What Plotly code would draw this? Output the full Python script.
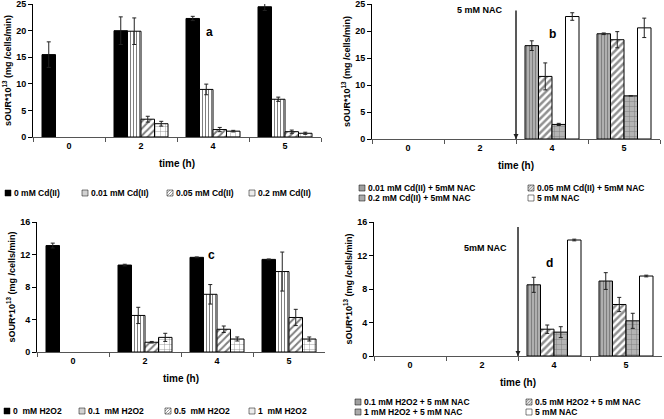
import plotly.graph_objects as go

FONT = "Liberation Sans, Arial, sans-serif"

# ---------------- data ----------------
times_a = ["0", "2", "4", "5"]
times_b = ["0", "2", "4", "5"]
times_c = ["0", "2", "4", "5"]
times_d = ["0", "2", "4", "5"]

names_a = ["0 mM Cd(II)", "0.01 mM Cd(II)", "0.05 mM Cd(II)", "0.2 mM Cd(II)"]
a_cd0 = [15.5, 20.0, 22.3, 24.5]
a_cd0_err = [2.4, 2.6, 0.4, 0.7]
a_cd001 = [None, 19.9, 8.95, 7.1]
a_cd001_err = [0, 2.5, 1.0, 0.4]
a_cd005 = [None, 3.35, 1.4, 1.0]
a_cd005_err = [0, 0.55, 0.4, 0.3]
a_cd02 = [None, 2.5, 1.1, 0.7]
a_cd02_err = [0, 0.45, 0.15, 0.2]

names_b = ["0.01 mM Cd(II) + 5mM NAC", "0.05 mM Cd(II) + 5mM NAC",
           "0.2 mM Cd(II) + 5mM NAC", "5 mM NAC"]
b_cd001 = [None, None, 17.3, 19.5]
b_cd001_err = [0, 0, 0.9, 0.15]
b_cd005 = [None, None, 11.6, 18.4]
b_cd005_err = [0, 0, 2.5, 1.5]
b_cd02 = [None, None, 2.7, 8.0]
b_cd02_err = [0, 0, 0.2, 0]
b_nac = [None, None, 22.7, 20.6]
b_nac_err = [0, 0, 0.7, 1.8]

names_c = ["0  mM H2O2", "0.1  mM H2O2", "0.5  mM H2O2", "1  mM H2O2"]
c_h0 = [13.1, 10.7, 11.65, 11.4]
c_h0_err = [0.3, 0.1, 0.05, 0.05]
c_h01 = [None, 4.5, 7.1, 9.9]
c_h01_err = [0, 1.0, 1.2, 2.4]
c_h05 = [None, 1.2, 2.8, 4.25]
c_h05_err = [0, 0.1, 0.4, 1.0]
c_h1 = [None, 1.8, 1.6, 1.6]
c_h1_err = [0, 0.5, 0.25, 0.25]

names_d = ["0.1 mM H2O2 + 5 mM NAC", "0.5 mM H2O2 + 5 mM NAC",
           "1 mM H2O2 + 5 mM NAC", "5 mM NAC"]
d_h01 = [None, None, 8.5, 8.95]
d_h01_err = [0, 0, 0.9, 1.0]
d_h05 = [None, None, 3.2, 6.15]
d_h05_err = [0, 0, 0.5, 0.85]
d_h1 = [None, None, 2.85, 4.2]
d_h1_err = [0, 0, 0.65, 0.9]
d_nac = [None, None, 13.85, 9.55]
d_nac_err = [0, 0, 0.1, 0.1]

# ---------------- styles ----------------
BLACK = dict(color="black")
VLINES = dict(color="white", pattern=dict(shape="|", fgcolor="black", bgcolor="white", size=3, solidity=0.35))
DIAG = dict(color="white", pattern=dict(shape="/", fgcolor="black", bgcolor="white", size=5, solidity=0.4))
GRID = dict(color="white", pattern=dict(shape="+", fgcolor="black", bgcolor="white", size=5, solidity=0.15))
G_VLINES = dict(color="#9a9a9a", pattern=dict(shape="|", fgcolor="#4a4a4a", bgcolor="#b4b4b4", size=3, solidity=0.4))
G_DIAG = dict(color="white", pattern=dict(shape="/", fgcolor="#222222", bgcolor="white", size=5, solidity=0.5))
G_GRID = dict(color="#b4b4b4", pattern=dict(shape="+", fgcolor="#333333", bgcolor="#b4b4b4", size=5, solidity=0.15))
WHITE = dict(color="white")

W, H = 664, 419


def px_x(p):
    return p / W


def px_y(p):
    return 1 - p / H


legf = dict(family=FONT, size=8.5, color="black", weight="bold")
TEXT_OFF = 40  # legend x -> legend text start (px)

# target text-start positions (px) of each legend entry
leg_pos = [
    (14, 193), (91, 193), (176, 193), (258, 193),
    (368, 188), (537, 188), (368, 198), (537, 198),
    (13, 411), (88, 411), (174, 411), (258, 411),
    (364, 402), (535, 402), (364, 412), (535, 412),
]

legend_layout = {}
legend_ids = []
for i, (lx, ly) in enumerate(leg_pos):
    key = "legend" if i == 0 else f"legend{i + 1}"
    legend_ids.append(key)
    legend_layout[key] = dict(x=px_x(lx - TEXT_OFF), y=px_y(ly), xanchor="left",
                              yanchor="middle", orientation="h", font=legf,
                              bgcolor="rgba(0,0,0,0)", itemwidth=30)


def bar(x, y, err, name, style, xa, ya, legend):
    m = dict(style)
    m["line"] = dict(color="black", width=1)
    return go.Bar(
        x=x, y=y, name=name, marker=m, xaxis=xa, yaxis=ya, legend=legend,
        error_y=dict(type="data", array=err, visible=True, color="#222222",
                     thickness=1, width=2),
    )


fig = go.Figure()
# panel a
fig.add_trace(bar(times_a, a_cd0, a_cd0_err, names_a[0], BLACK, "x", "y", legend_ids[0]))
fig.add_trace(bar(times_a, a_cd001, a_cd001_err, names_a[1], VLINES, "x", "y", legend_ids[1]))
fig.add_trace(bar(times_a, a_cd005, a_cd005_err, names_a[2], DIAG, "x", "y", legend_ids[2]))
fig.add_trace(bar(times_a, a_cd02, a_cd02_err, names_a[3], GRID, "x", "y", legend_ids[3]))
# panel b
fig.add_trace(bar(times_b, b_cd001, b_cd001_err, names_b[0], G_VLINES, "x2", "y2", legend_ids[4]))
fig.add_trace(bar(times_b, b_cd005, b_cd005_err, names_b[1], G_DIAG, "x2", "y2", legend_ids[5]))
fig.add_trace(bar(times_b, b_cd02, b_cd02_err, names_b[2], G_GRID, "x2", "y2", legend_ids[6]))
fig.add_trace(bar(times_b, b_nac, b_nac_err, names_b[3], WHITE, "x2", "y2", legend_ids[7]))
# panel c
fig.add_trace(bar(times_c, c_h0, c_h0_err, names_c[0], BLACK, "x3", "y3", legend_ids[8]))
fig.add_trace(bar(times_c, c_h01, c_h01_err, names_c[1], VLINES, "x3", "y3", legend_ids[9]))
fig.add_trace(bar(times_c, c_h05, c_h05_err, names_c[2], DIAG, "x3", "y3", legend_ids[10]))
fig.add_trace(bar(times_c, c_h1, c_h1_err, names_c[3], GRID, "x3", "y3", legend_ids[11]))
# panel d
fig.add_trace(bar(times_d, d_h01, d_h01_err, names_d[0], G_VLINES, "x4", "y4", legend_ids[12]))
fig.add_trace(bar(times_d, d_h05, d_h05_err, names_d[1], G_DIAG, "x4", "y4", legend_ids[13]))
fig.add_trace(bar(times_d, d_h1, d_h1_err, names_d[2], G_GRID, "x4", "y4", legend_ids[14]))
fig.add_trace(bar(times_d, d_nac, d_nac_err, names_d[3], WHITE, "x4", "y4", legend_ids[15]))

tickf = dict(family=FONT, size=9, color="black", weight="bold")
titlef = dict(family=FONT, size=9, color="black", weight="bold")
xtitlef = dict(family=FONT, size=10, color="black", weight="bold")
YT = "sOUR*10<sup>13</sup> (mg /cells/min)"


def xax(dom, anchor):
    return dict(domain=dom, anchor=anchor, type="category", showline=True,
                linecolor="#555555", linewidth=1, ticks="outside", tickson="boundaries",
                ticklen=4, tickcolor="#555555", tickfont=tickf, showgrid=False,
                title=dict(text="time (h)", font=xtitlef, standoff=10), automargin=False,
                fixedrange=True, ticklabeloverflow="allow")


def yax(dom, anchor, rng, dt):
    return dict(domain=dom, anchor=anchor, range=rng, dtick=dt, showline=True,
                linecolor="black", linewidth=1, ticks="outside", ticklen=4,
                tickcolor="black", tickfont=tickf, showgrid=False, zeroline=False,
                title=dict(text=YT, font=titlef, standoff=3), automargin=False,
                fixedrange=True, ticklabeloverflow="allow")


fig.update_layout(
    xaxis=xax([px_x(33), px_x(321)], "y"),
    yaxis=yax([px_y(137), px_y(4)], "x", [0, 25.02], 5),
    xaxis2=xax([px_x(372), px_x(660)], "y2"),
    yaxis2=yax([px_y(139), px_y(4)], "x2", [0, 25.02], 5),
    xaxis3=xax([px_x(37), px_x(325)], "y3"),
    yaxis3=yax([px_y(352), px_y(222)], "x3", [0, 16], 4),
    xaxis4=xax([px_x(374), px_x(662)], "y4"),
    yaxis4=yax([px_y(356), px_y(222)], "x4", [0, 16], 4),
)
fig.update_layout(**legend_layout)

annf = dict(family=FONT, size=9, color="black", weight="bold")
letf = dict(family=FONT, size=12, color="black", weight="bold")
anns = [
    dict(x=1.95, y=19.8, xref="x", yref="y", text="a", showarrow=False, font=letf),
    dict(x=2.0, y=19.5, xref="x2", yref="y2", text="b", showarrow=False, font=letf),
    dict(x=1.92, y=12.0, xref="x3", yref="y3", text="c", showarrow=False, font=letf),
    dict(x=1.94, y=11.1, xref="x4", yref="y4", text="d", showarrow=False, font=letf),
    dict(x=1.0, y=23.9, xref="x2", yref="y2", text="5 mM NAC", showarrow=False, font=annf),
    dict(x=1.05, y=12.9, xref="x4", yref="y4", text="5mM NAC", showarrow=False, font=annf),
]

ARROW = "#222222"
shapes = []
for xr, yr, top in (("x2", "y2", 23.8), ("x4", "y4", 15.4)):
    shapes.append(dict(type="line", xref=xr, yref=yr, x0=1.5, x1=1.5, y0=0, y1=top,
                       line=dict(color=ARROW, width=1.5)))
    shapes.append(dict(type="path", xref=xr, yref=yr, xsizemode="pixel", ysizemode="pixel",
                       xanchor=1.5, yanchor=0, path="M-2.5,5 L2.5,5 L0,0 Z",
                       fillcolor=ARROW, line=dict(width=0)))

fig.update_layout(
    annotations=anns, shapes=shapes,
    barmode="group", bargap=0.25, bargroupgap=0,
    width=W, height=H, margin=dict(l=0, r=0, t=0, b=0, autoexpand=False),
    paper_bgcolor="white", plot_bgcolor="white",
    font=dict(family=FONT, color="black"),
    showlegend=True,
)

POST = """
document.body.style.margin='0';document.body.style.padding='0';
document.body.style.overflow='hidden';
var gd = document.getElementById('{plot_id}');
function smallSwatches(){
  gd.querySelectorAll('.legendpoints path').forEach(function(p){
    var t0 = p.getAttribute('data-t0');
    if (t0 === null) { t0 = p.getAttribute('transform') || ''; p.setAttribute('data-t0', t0); }
    p.setAttribute('transform', t0 + ' translate(14,0) scale(0.5)');
  });
}
smallSwatches();
if (gd.on) { gd.on('plotly_afterplot', smallSwatches); }
"""

fig.write_html("out.html", config={"displayModeBar": False}, post_script=POST)
